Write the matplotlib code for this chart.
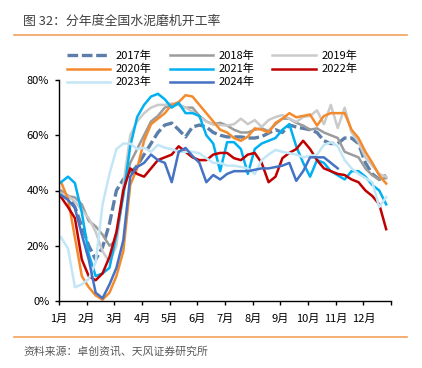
import numpy as np
import matplotlib
matplotlib.use("Agg")
import matplotlib.pyplot as plt
from matplotlib.lines import Line2D

plt.rcParams['font.family'] = ['Noto Sans CJK SC', 'DejaVu Sans']

months = ["1月", "2月", "3月", "4月", "5月", "6月", "7月", "8月", "9月", "10月", "11月", "12月"]

y2017 = [39, 38, 34, 27, 20, 15, 19.5, 28, 40, 44, 46, 49, 53, 57, 61, 63.7, 64.4, 62, 59.4, 63,
         63.7, 63, 61, 60, 59.4, 59.4, 59.4, 59, 59, 59.5, 60.8, 62, 61, 63.7, 63, 62.5, 62, 61,
         58, 57, 57, 59, 59, 57, 50, 46, 44, 45.5]
y2018 = [40, 38, 37.5, 35, 29, 27, 24, 20, 22, 40, 50, 55, 60, 65, 67, 70, 71, 71, 70, 70,
         67, 65, 64, 64.5, 63.5, 62, 61, 61, 62, 62.5, 61.5, 64, 66, 66, 64.5, 63.5, 62, 62.5,
         61, 60, 59, 54, 53, 52, 48, 45.5, 44, 44.5]
y2019 = [39, 38, 36, 33, 30, 25, 18, 14, 20, 42, 60, 65, 68, 70, 71, 71, 71.5, 71, 70, 68.5,
         66.6, 65, 64, 63.7, 63.5, 64, 66, 64, 65.5, 63, 65.5, 66.6, 67.3, 66, 64.8, 66.6, 67,
         69, 64, 71, 62.6, 70, 61, 57.5, 52, 49, 46, 45]
y2020 = [43, 37, 23, 9, 5, 2, 0.5, 3, 9, 18, 42, 48, 58, 64, 66, 68, 71, 72, 74.5, 74,
         71, 68, 65, 62, 61, 59, 58, 59.5, 62.5, 62, 61, 64.5, 66, 68, 66.5, 67, 67.5, 63.5,
         67, 68, 68, 68, 62, 59, 54, 50, 45.5, 42.5]
y2021 = [43, 45, 42.7, 32, 17, 9, 10, 12, 24, 38, 56, 66.6, 71, 74, 75, 73, 70, 71.7, 68, 68,
         67, 60, 57, 47, 57.5, 57.5, 55, 46, 55, 57, 58, 59, 62, 64, 56, 50, 45, 51, 50, 47,
         45.5, 44, 47, 47, 45, 42, 40, 35]
y2022 = [37.6, 34, 30, 15, 9, 7.5, 10, 16, 25, 40, 48, 46, 45, 48, 51, 52, 53, 56, 54, 52,
         51, 51, 53, 53.6, 53.6, 51.7, 51, 53, 53.6, 50, 43, 45, 51.7, 53.6, 55, 58, 55, 51,
         48, 47, 46, 45.6, 44, 43, 40, 38, 35, 26]
y2023 = [23, 19, 5, 6, 8, 14, 35, 46, 55, 57, 57, 55, 55.5, 54, 56.5, 55.5, 55, 54, 54, 54,
         53.5, 51.7, 50, 50, 49, 49, 48.5, 48, 46, 51, 53, 54.7, 54, 53.5, 53, 52, 52.5, 53,
         56.5, 57.5, 56, 51, 48, 46, 44.5, 43, 34, 37.6]
y2024 = [38.4, 36.6, 33.7, 24, 15, 3, 1, 6, 12, 22, 45, 48.5, 50, 53, 51, 50, 43, 54, 55.4,
         52.5, 50, 43, 45.6, 44, 46, 47, 47, 47, 47.5, 48, 48, 48.5, 49, 50, 43.5, 47, 52, 52,
         52, 50, 48]

series = [
    ("2017年", y2017, "#5B7FA9", "dashed"),
    ("2018年", y2018, "#9C9C9C", "solid"),
    ("2019年", y2019, "#CACACA", "solid"),
    ("2020年", y2020, "#F58A2C", "solid"),
    ("2021年", y2021, "#00B0F0", "solid"),
    ("2022年", y2022, "#C00000", "solid"),
    ("2023年", y2023, "#C3E6F7", "solid"),
    ("2024年", y2024, "#4472C4", "solid"),
]

fig = plt.figure(figsize=(4.22, 3.68), dpi=100)
ax = fig.add_axes([59 / 422, 1 - 301 / 368, 332 / 422, 221 / 368])

handles = {}
for name, vals, color, style in series:
    x = (np.arange(len(vals)) + 0.3) * 0.25
    if style == "dashed":
        ln, = ax.plot(x, vals, color=color, lw=2.4, dashes=(3.2, 1.1), solid_capstyle='butt')
    else:
        ln, = ax.plot(x, vals, color=color, lw=1.8, solid_joinstyle='round')
    handles[name] = ln

ax.set_xlim(0, 12)
ax.set_ylim(0, 80)
ax.set_xticks(np.arange(0, 13))
ax.set_xticklabels(months + [""])
ax.set_yticks([0, 20, 40, 60, 80])
ax.set_yticklabels([f"{v}%" for v in [0, 20, 40, 60, 80]])
for s in ["top", "right"]:
    ax.spines[s].set_visible(False)
for s in ["left", "bottom"]:
    ax.spines[s].set_color("#000000")
    ax.spines[s].set_linewidth(1.0)
ax.tick_params(axis='x', length=3, width=1, pad=6, labelsize=8, colors="#000000")
ax.tick_params(axis='y', length=3, width=1, pad=4, labelsize=8, colors="#000000")

order = ["2017年", "2020年", "2023年", "2018年", "2021年", "2024年", "2019年", "2022年"]
leg_handles = []
for nm in order:
    h = handles[nm]
    lh = Line2D([0], [0], color=h.get_color(), lw=h.get_linewidth(), linestyle=h.get_linestyle())
    if nm == "2017年":
        lh.set_dashes((3.2, 1.1))
    leg_handles.append(lh)
fig.legend(leg_handles, order, ncol=3, loc='upper left',
           bbox_to_anchor=(67 / 422, 1 - 51 / 368), frameon=False, fontsize=8,
           handlelength=3.9, handletextpad=0.5, columnspacing=1.6, labelspacing=0.24,
           borderpad=0, borderaxespad=0)

fig.text(23 / 422, 1 - 21 / 368, "图 32：分年度全国水泥磨机开工率", fontsize=9.3,
         color="#404040", va='center', ha='left')
fig.add_artist(Line2D([14 / 422, 407 / 422], [1 - 35 / 368, 1 - 35 / 368], color="#F4A15D", lw=1.2))
fig.add_artist(Line2D([14 / 422, 407 / 422], [1 - 337 / 368, 1 - 337 / 368], color="#F4A15D", lw=1.2))
fig.text(23 / 422, 1 - 352 / 368, "资料来源：卓创资讯、天风证券研究所", fontsize=7.8,
         color="#595959", va='center', ha='left')

fig.savefig("out.png", dpi=100)
